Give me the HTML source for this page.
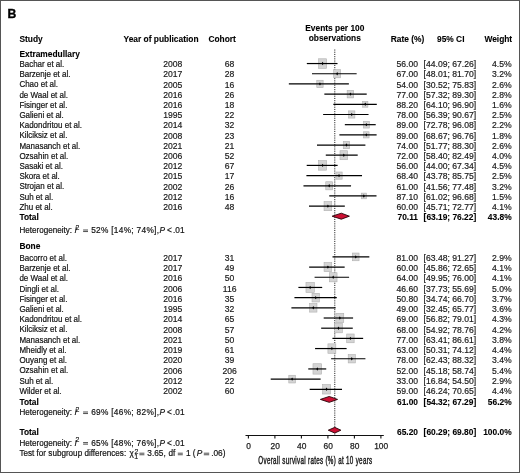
<!DOCTYPE html>
<html><head><meta charset="utf-8"><style>
html,body{margin:0;padding:0;background:#fff;}
body{width:520px;height:473px;overflow:hidden;}
.wrap{position:relative;width:518px;height:471px;border:1px solid #555;}
svg{position:absolute;left:-1px;top:-1px;will-change:transform;}
text{font-family:"Liberation Sans",sans-serif;stroke:currentColor;}
.r{font-size:8.0px;fill:#111;color:#111;stroke-width:0.18px;}
.n{font-size:8.6px;fill:#1a1a1a;color:#1a1a1a;stroke-width:0.18px;}
.b{font-size:8.4px;font-weight:bold;fill:#000;color:#000;stroke-width:0.1px;}
.big{font-size:12.2px;font-weight:bold;fill:#000;color:#000;stroke-width:0.35;}
.it{font-style:italic;}
.sup2{font-size:7px;fill:#111;color:#111;stroke-width:0.15px;}
.h{font-size:8.3px;fill:#111;color:#111;stroke-width:0.18px;}
.eqp{stroke:#222;stroke-width:0.8;fill:none;}
.tk{font-size:8.4px;fill:#1e1e1e;color:#1e1e1e;stroke-width:0.25px;}
.at{font-size:10px;fill:#1e1e1e;color:#1e1e1e;stroke-width:0.45px;letter-spacing:0.5px;}
.sq{fill:#d4d4d4;stroke:#b0b0b0;stroke-width:0.6;}
.ci{stroke:#000;stroke-width:1.2;}
.pt{fill:#000;}
.dm{fill:#cc1033;stroke:#250006;stroke-width:0.9;}
.ref{stroke:#222;stroke-width:1;stroke-dasharray:1.1 1.1;}
.ax{stroke:#111;stroke-width:1.1;}
</style></head><body><div class="wrap">
<svg width="520" height="473" viewBox="0 0 520 473">
<line x1="334.79" y1="49.5" x2="334.79" y2="435" class="ref"/>
<rect x="318.61" y="58.79" width="7.99" height="9.52" class="sq"/>
<line x1="306.82" y1="63.55" x2="337.52" y2="63.55" class="ci"/>
<path d="M321.60 63.55L322.60 61.85L323.60 63.55L322.60 65.25Z" class="pt"/>
<rect x="333.71" y="69.69" width="6.92" height="8.09" class="sq"/>
<line x1="312.01" y1="73.74" x2="356.65" y2="73.74" class="ci"/>
<path d="M336.18 73.74L337.18 72.04L338.18 73.74L337.18 75.44Z" class="pt"/>
<rect x="316.77" y="80.26" width="6.36" height="7.33" class="sq"/>
<line x1="288.84" y1="83.92" x2="348.87" y2="83.92" class="ci"/>
<path d="M318.95 83.92L319.95 82.22L320.95 83.92L319.95 85.62Z" class="pt"/>
<rect x="347.15" y="90.31" width="6.55" height="7.60" class="sq"/>
<line x1="324.35" y1="94.11" x2="366.72" y2="94.11" class="ci"/>
<path d="M349.43 94.11L350.43 92.41L351.43 94.11L350.43 95.81Z" class="pt"/>
<rect x="362.64" y="101.37" width="5.25" height="5.84" class="sq"/>
<line x1="333.33" y1="104.29" x2="376.79" y2="104.29" class="ci"/>
<path d="M364.26 104.29L365.26 102.59L366.26 104.29L365.26 105.99Z" class="pt"/>
<rect x="348.62" y="110.88" width="6.26" height="7.20" class="sq"/>
<line x1="323.12" y1="114.48" x2="368.54" y2="114.48" class="ci"/>
<path d="M350.75 114.48L351.75 112.78L352.75 114.48L351.75 116.18Z" class="pt"/>
<rect x="363.35" y="121.28" width="5.95" height="6.78" class="sq"/>
<line x1="344.83" y1="124.67" x2="375.71" y2="124.67" class="ci"/>
<path d="M365.32 124.67L366.32 122.97L367.32 124.67L366.32 126.37Z" class="pt"/>
<rect x="363.58" y="131.77" width="5.49" height="6.17" class="sq"/>
<line x1="339.39" y1="134.85" x2="376.61" y2="134.85" class="ci"/>
<path d="M365.32 134.85L366.32 133.15L367.32 134.85L366.32 136.55Z" class="pt"/>
<rect x="343.27" y="141.37" width="6.36" height="7.33" class="sq"/>
<line x1="317.00" y1="145.04" x2="365.40" y2="145.04" class="ci"/>
<path d="M345.45 145.04L346.45 143.34L347.45 145.04L346.45 146.74Z" class="pt"/>
<rect x="340.00" y="150.72" width="7.60" height="9.00" class="sq"/>
<line x1="325.78" y1="155.22" x2="357.70" y2="155.22" class="ci"/>
<path d="M342.80 155.22L343.80 153.52L344.80 155.22L343.80 156.92Z" class="pt"/>
<rect x="318.61" y="160.65" width="7.99" height="9.52" class="sq"/>
<line x1="306.70" y1="165.41" x2="337.63" y2="165.41" class="ci"/>
<path d="M321.60 165.41L322.60 163.71L323.60 165.41L322.60 167.11Z" class="pt"/>
<rect x="335.90" y="172.00" width="6.26" height="7.20" class="sq"/>
<line x1="306.41" y1="175.60" x2="362.02" y2="175.60" class="ci"/>
<path d="M338.03 175.60L339.03 173.90L340.03 175.60L339.03 177.30Z" class="pt"/>
<rect x="325.76" y="181.74" width="6.92" height="8.09" class="sq"/>
<line x1="303.47" y1="185.78" x2="351.06" y2="185.78" class="ci"/>
<path d="M328.23 185.78L329.23 184.08L330.23 185.78L329.23 187.48Z" class="pt"/>
<rect x="361.25" y="193.13" width="5.12" height="5.67" class="sq"/>
<line x1="329.25" y1="195.97" x2="376.50" y2="195.97" class="ci"/>
<path d="M362.81 195.97L363.81 194.27L364.81 195.97L363.81 197.67Z" class="pt"/>
<rect x="324.06" y="201.60" width="7.68" height="9.11" class="sq"/>
<line x1="308.97" y1="206.15" x2="344.82" y2="206.15" class="ci"/>
<path d="M326.90 206.15L327.90 204.45L328.90 206.15L327.90 207.85Z" class="pt"/>
<path d="M332.13 216.20L341.30 213.20L349.39 216.20L341.30 219.20Z" class="dm"/>
<path d="M83.10 230.00H88.00M83.10 231.55H88.00" class="eqp"/>
<rect x="352.40" y="253.04" width="6.65" height="7.72" class="sq"/>
<line x1="332.51" y1="256.90" x2="369.33" y2="256.90" class="ci"/>
<path d="M354.73 256.90L355.73 255.20L356.73 256.90L355.73 258.60Z" class="pt"/>
<rect x="324.06" y="262.53" width="7.68" height="9.11" class="sq"/>
<line x1="309.16" y1="267.08" x2="344.66" y2="267.08" class="ci"/>
<path d="M326.90 267.08L327.90 265.38L328.90 267.08L327.90 268.78Z" class="pt"/>
<rect x="329.36" y="272.72" width="7.68" height="9.11" class="sq"/>
<line x1="314.58" y1="277.27" x2="349.10" y2="277.27" class="ci"/>
<path d="M332.20 277.27L333.20 275.57L334.20 277.27L333.20 278.97Z" class="pt"/>
<rect x="305.97" y="282.45" width="8.36" height="10.02" class="sq"/>
<line x1="298.39" y1="287.45" x2="322.19" y2="287.45" class="ci"/>
<path d="M309.14 287.45L310.14 285.75L311.14 287.45L310.14 289.15Z" class="pt"/>
<rect x="312.03" y="293.30" width="7.36" height="8.67" class="sq"/>
<line x1="294.43" y1="297.64" x2="336.78" y2="297.64" class="ci"/>
<path d="M314.71 297.64L315.71 295.94L316.71 297.64L315.71 299.34Z" class="pt"/>
<rect x="309.69" y="303.55" width="7.27" height="8.56" class="sq"/>
<line x1="291.40" y1="307.82" x2="335.55" y2="307.82" class="ci"/>
<path d="M312.32 307.82L313.32 306.12L314.32 307.82L313.32 309.52Z" class="pt"/>
<rect x="335.91" y="313.35" width="7.84" height="9.32" class="sq"/>
<line x1="323.69" y1="318.01" x2="353.09" y2="318.01" class="ci"/>
<path d="M338.82 318.01L339.82 316.31L340.82 318.01L339.82 319.71Z" class="pt"/>
<rect x="334.62" y="323.59" width="7.76" height="9.21" class="sq"/>
<line x1="321.17" y1="328.19" x2="352.76" y2="328.19" class="ci"/>
<path d="M337.50 328.19L338.50 326.50L339.50 328.19L338.50 329.89Z" class="pt"/>
<rect x="346.71" y="333.99" width="7.44" height="8.78" class="sq"/>
<line x1="332.42" y1="338.38" x2="363.16" y2="338.38" class="ci"/>
<path d="M349.43 338.38L350.43 336.68L351.43 338.38L350.43 340.08Z" class="pt"/>
<rect x="327.92" y="343.86" width="7.91" height="9.42" class="sq"/>
<line x1="315.06" y1="348.56" x2="346.61" y2="348.56" class="ci"/>
<path d="M330.88 348.56L331.88 346.87L332.88 348.56L331.88 350.26Z" class="pt"/>
<rect x="348.20" y="354.59" width="7.10" height="8.33" class="sq"/>
<line x1="331.12" y1="358.75" x2="365.42" y2="358.75" class="ci"/>
<path d="M350.75 358.75L351.75 357.05L352.75 358.75L351.75 360.45Z" class="pt"/>
<rect x="312.98" y="363.74" width="8.64" height="10.39" class="sq"/>
<line x1="308.26" y1="368.94" x2="326.23" y2="368.94" class="ci"/>
<path d="M316.30 368.94L317.30 367.24L318.30 368.94L317.30 370.63Z" class="pt"/>
<rect x="288.80" y="375.26" width="6.65" height="7.72" class="sq"/>
<line x1="270.71" y1="379.12" x2="320.61" y2="379.12" class="ci"/>
<path d="M291.12 379.12L292.12 377.42L293.12 379.12L292.12 380.82Z" class="pt"/>
<rect x="322.62" y="384.60" width="7.91" height="9.42" class="sq"/>
<line x1="309.67" y1="389.30" x2="342.01" y2="389.30" class="ci"/>
<path d="M325.57 389.30L326.57 387.60L327.57 389.30L326.57 391.00Z" class="pt"/>
<path d="M320.37 399.40L329.23 396.45L337.56 399.40L329.23 402.35Z" class="dm"/>
<path d="M83.10 412.00H88.00M83.10 413.55H88.00" class="eqp"/>
<path d="M328.28 430.20L334.79 427.35L340.88 430.20L334.79 433.05Z" class="dm"/>
<path d="M83.10 442.60H88.00M83.10 444.15H88.00" class="eqp"/>
<path d="M139.40 453.20H144.40M139.40 454.75H144.40" class="eqp"/>
<path d="M177.80 453.20H182.80M177.80 454.75H182.80" class="eqp"/>
<path d="M203.80 453.20H209.20M203.80 454.75H209.20" class="eqp"/>
<line x1="245.5" y1="435.5" x2="383.8" y2="435.5" class="ax"/>
<line x1="248.40" y1="435.5" x2="248.40" y2="438.6" class="ax"/>
<line x1="274.90" y1="435.5" x2="274.90" y2="438.6" class="ax"/>
<line x1="301.40" y1="435.5" x2="301.40" y2="438.6" class="ax"/>
<line x1="327.90" y1="435.5" x2="327.90" y2="438.6" class="ax"/>
<line x1="354.40" y1="435.5" x2="354.40" y2="438.6" class="ax"/>
<line x1="380.90" y1="435.5" x2="380.90" y2="438.6" class="ax"/>
<text x="7.60" y="17.80" class="big">B</text>
<text x="19.40" y="41.60" class="b">Study</text>
<text x="123.60" y="41.60" class="b">Year of publication</text>
<text x="208.40" y="41.60" class="b">Cohort</text>
<text x="390.80" y="41.60" class="b">Rate (%)</text>
<text x="437.00" y="41.60" class="b">95% CI</text>
<text x="484.40" y="41.60" class="b">Weight</text>
<text x="334.80" y="31.00" class="b" text-anchor="middle">Events per 100</text>
<text x="334.80" y="40.90" class="b" text-anchor="middle">observations</text>
<text x="19.40" y="56.90" class="b">Extramedullary</text>
<text x="19.40" y="67.10" class="r" transform="matrix(1 0 0 1.12 0 -8.052)">Bachar et al.</text>
<text x="182.40" y="67.10" class="n" text-anchor="end">2008</text>
<text x="229.60" y="67.10" class="n" text-anchor="middle">68</text>
<text x="418.00" y="67.10" class="n" text-anchor="end">56.00</text>
<text x="423.60" y="67.10" class="n">[44.09; 67.26]</text>
<text x="511.60" y="67.10" class="n" text-anchor="end">4.5%</text>
<text x="19.40" y="77.30" class="r" transform="matrix(1 0 0 1.12 0 -9.276)">Barzenje et al.</text>
<text x="182.40" y="77.30" class="n" text-anchor="end">2017</text>
<text x="229.60" y="77.30" class="n" text-anchor="middle">28</text>
<text x="418.00" y="77.30" class="n" text-anchor="end">67.00</text>
<text x="423.60" y="77.30" class="n">[48.01; 81.70]</text>
<text x="511.60" y="77.30" class="n" text-anchor="end">3.2%</text>
<text x="19.40" y="87.50" class="r" transform="matrix(1 0 0 1.12 0 -10.500)">Chao et al.</text>
<text x="182.40" y="87.50" class="n" text-anchor="end">2005</text>
<text x="229.60" y="87.50" class="n" text-anchor="middle">16</text>
<text x="418.00" y="87.50" class="n" text-anchor="end">54.00</text>
<text x="423.60" y="87.50" class="n">[30.52; 75.83]</text>
<text x="511.60" y="87.50" class="n" text-anchor="end">2.6%</text>
<text x="19.40" y="97.70" class="r" transform="matrix(1 0 0 1.12 0 -11.724)">de Waal et al.</text>
<text x="182.40" y="97.70" class="n" text-anchor="end">2016</text>
<text x="229.60" y="97.70" class="n" text-anchor="middle">26</text>
<text x="418.00" y="97.70" class="n" text-anchor="end">77.00</text>
<text x="423.60" y="97.70" class="n">[57.32; 89.30]</text>
<text x="511.60" y="97.70" class="n" text-anchor="end">2.8%</text>
<text x="19.40" y="107.90" class="r" transform="matrix(1 0 0 1.12 0 -12.948)">Fisinger et al.</text>
<text x="182.40" y="107.90" class="n" text-anchor="end">2016</text>
<text x="229.60" y="107.90" class="n" text-anchor="middle">18</text>
<text x="418.00" y="107.90" class="n" text-anchor="end">88.20</text>
<text x="423.60" y="107.90" class="n">[64.10; 96.90]</text>
<text x="511.60" y="107.90" class="n" text-anchor="end">1.6%</text>
<text x="19.40" y="118.10" class="r" transform="matrix(1 0 0 1.12 0 -14.172)">Galieni et al.</text>
<text x="182.40" y="118.10" class="n" text-anchor="end">1995</text>
<text x="229.60" y="118.10" class="n" text-anchor="middle">22</text>
<text x="418.00" y="118.10" class="n" text-anchor="end">78.00</text>
<text x="423.60" y="118.10" class="n">[56.39; 90.67]</text>
<text x="511.60" y="118.10" class="n" text-anchor="end">2.5%</text>
<text x="19.40" y="128.30" class="r" transform="matrix(1 0 0 1.12 0 -15.396)">Kadondritou et al.</text>
<text x="182.40" y="128.30" class="n" text-anchor="end">2014</text>
<text x="229.60" y="128.30" class="n" text-anchor="middle">32</text>
<text x="418.00" y="128.30" class="n" text-anchor="end">89.00</text>
<text x="423.60" y="128.30" class="n">[72.78; 96.08]</text>
<text x="511.60" y="128.30" class="n" text-anchor="end">2.2%</text>
<text x="19.40" y="138.50" class="r" transform="matrix(1 0 0 1.12 0 -16.620)">Kilciksiz et al.</text>
<text x="182.40" y="138.50" class="n" text-anchor="end">2008</text>
<text x="229.60" y="138.50" class="n" text-anchor="middle">23</text>
<text x="418.00" y="138.50" class="n" text-anchor="end">89.00</text>
<text x="423.60" y="138.50" class="n">[68.67; 96.76]</text>
<text x="511.60" y="138.50" class="n" text-anchor="end">1.8%</text>
<text x="19.40" y="148.70" class="r" transform="matrix(1 0 0 1.12 0 -17.844)">Manasanch et al.</text>
<text x="182.40" y="148.70" class="n" text-anchor="end">2021</text>
<text x="229.60" y="148.70" class="n" text-anchor="middle">21</text>
<text x="418.00" y="148.70" class="n" text-anchor="end">74.00</text>
<text x="423.60" y="148.70" class="n">[51.77; 88.30]</text>
<text x="511.60" y="148.70" class="n" text-anchor="end">2.6%</text>
<text x="19.40" y="158.90" class="r" transform="matrix(1 0 0 1.12 0 -19.068)">Ozsahin et al.</text>
<text x="182.40" y="158.90" class="n" text-anchor="end">2006</text>
<text x="229.60" y="158.90" class="n" text-anchor="middle">52</text>
<text x="418.00" y="158.90" class="n" text-anchor="end">72.00</text>
<text x="423.60" y="158.90" class="n">[58.40; 82.49]</text>
<text x="511.60" y="158.90" class="n" text-anchor="end">4.0%</text>
<text x="19.40" y="169.10" class="r" transform="matrix(1 0 0 1.12 0 -20.292)">Sasaki et al.</text>
<text x="182.40" y="169.10" class="n" text-anchor="end">2012</text>
<text x="229.60" y="169.10" class="n" text-anchor="middle">67</text>
<text x="418.00" y="169.10" class="n" text-anchor="end">56.00</text>
<text x="423.60" y="169.10" class="n">[44.00; 67.34]</text>
<text x="511.60" y="169.10" class="n" text-anchor="end">4.5%</text>
<text x="19.40" y="179.30" class="r" transform="matrix(1 0 0 1.12 0 -21.516)">Skora et al.</text>
<text x="182.40" y="179.30" class="n" text-anchor="end">2015</text>
<text x="229.60" y="179.30" class="n" text-anchor="middle">17</text>
<text x="418.00" y="179.30" class="n" text-anchor="end">68.40</text>
<text x="423.60" y="179.30" class="n">[43.78; 85.75]</text>
<text x="511.60" y="179.30" class="n" text-anchor="end">2.5%</text>
<text x="19.40" y="189.50" class="r" transform="matrix(1 0 0 1.12 0 -22.740)">Strojan et al.</text>
<text x="182.40" y="189.50" class="n" text-anchor="end">2002</text>
<text x="229.60" y="189.50" class="n" text-anchor="middle">26</text>
<text x="418.00" y="189.50" class="n" text-anchor="end">61.00</text>
<text x="423.60" y="189.50" class="n">[41.56; 77.48]</text>
<text x="511.60" y="189.50" class="n" text-anchor="end">3.2%</text>
<text x="19.40" y="199.70" class="r" transform="matrix(1 0 0 1.12 0 -23.964)">Suh et al.</text>
<text x="182.40" y="199.70" class="n" text-anchor="end">2012</text>
<text x="229.60" y="199.70" class="n" text-anchor="middle">16</text>
<text x="418.00" y="199.70" class="n" text-anchor="end">87.10</text>
<text x="423.60" y="199.70" class="n">[61.02; 96.68]</text>
<text x="511.60" y="199.70" class="n" text-anchor="end">1.5%</text>
<text x="19.40" y="209.90" class="r" transform="matrix(1 0 0 1.12 0 -25.188)">Zhu et al.</text>
<text x="182.40" y="209.90" class="n" text-anchor="end">2016</text>
<text x="229.60" y="209.90" class="n" text-anchor="middle">48</text>
<text x="418.00" y="209.90" class="n" text-anchor="end">60.00</text>
<text x="423.60" y="209.90" class="n">[45.71; 72.77]</text>
<text x="511.60" y="209.90" class="n" text-anchor="end">4.1%</text>
<text x="19.40" y="220.30" class="b">Total</text>
<text x="418.00" y="220.30" class="b" text-anchor="end">70.11</text>
<text x="423.60" y="220.30" class="b">[63.19; 76.22]</text>
<text x="511.60" y="220.30" class="b" text-anchor="end">43.8%</text>
<text x="19.50" y="233.00" class="h" transform="matrix(1 0 0 1.12 0 -27.960)" style="font-size:8.1px">Heterogeneity:</text>
<text x="74.50" y="233.00" class="h it" transform="matrix(1 0 0 1.12 0 -27.960)">I</text>
<text x="75.60" y="229.70" class="sup2" transform="matrix(1 0 0 1.12 0 -27.564)">2</text>
<text x="91.20" y="233.00" class="h" transform="matrix(1 0 0 1.12 0 -27.960)" style="letter-spacing:0.3px">52% [14%; 74%],</text>
<text x="159.60" y="233.00" class="h it" transform="matrix(1 0 0 1.12 0 -27.960)">P</text>
<text x="167.00" y="233.00" class="h" transform="matrix(1 0 0 1.12 0 -27.960)">&lt;</text>
<text x="173.00" y="233.00" class="h" transform="matrix(1 0 0 1.12 0 -27.960)">.01</text>
<text x="19.40" y="249.10" class="b">Bone</text>
<text x="19.40" y="260.80" class="r" transform="matrix(1 0 0 1.12 0 -31.296)">Bacorro et al.</text>
<text x="182.40" y="260.80" class="n" text-anchor="end">2017</text>
<text x="229.60" y="260.80" class="n" text-anchor="middle">31</text>
<text x="418.00" y="260.80" class="n" text-anchor="end">81.00</text>
<text x="423.60" y="260.80" class="n">[63.48; 91.27]</text>
<text x="511.60" y="260.80" class="n" text-anchor="end">2.9%</text>
<text x="19.40" y="271.05" class="r" transform="matrix(1 0 0 1.12 0 -32.525)">Barzenje et al.</text>
<text x="182.40" y="271.05" class="n" text-anchor="end">2017</text>
<text x="229.60" y="271.05" class="n" text-anchor="middle">49</text>
<text x="418.00" y="271.05" class="n" text-anchor="end">60.00</text>
<text x="423.60" y="271.05" class="n">[45.86; 72.65]</text>
<text x="511.60" y="271.05" class="n" text-anchor="end">4.1%</text>
<text x="19.40" y="281.29" class="r" transform="matrix(1 0 0 1.12 0 -33.755)">de Waal et al.</text>
<text x="182.40" y="281.29" class="n" text-anchor="end">2016</text>
<text x="229.60" y="281.29" class="n" text-anchor="middle">50</text>
<text x="418.00" y="281.29" class="n" text-anchor="end">64.00</text>
<text x="423.60" y="281.29" class="n">[49.95; 76.00]</text>
<text x="511.60" y="281.29" class="n" text-anchor="end">4.1%</text>
<text x="19.40" y="291.54" class="r" transform="matrix(1 0 0 1.12 0 -34.984)">Dingli et al.</text>
<text x="182.40" y="291.54" class="n" text-anchor="end">2006</text>
<text x="229.60" y="291.54" class="n" text-anchor="middle">116</text>
<text x="418.00" y="291.54" class="n" text-anchor="end">46.60</text>
<text x="423.60" y="291.54" class="n">[37.73; 55.69]</text>
<text x="511.60" y="291.54" class="n" text-anchor="end">5.0%</text>
<text x="19.40" y="301.78" class="r" transform="matrix(1 0 0 1.12 0 -36.214)">Fisinger et al.</text>
<text x="182.40" y="301.78" class="n" text-anchor="end">2016</text>
<text x="229.60" y="301.78" class="n" text-anchor="middle">35</text>
<text x="418.00" y="301.78" class="n" text-anchor="end">50.80</text>
<text x="423.60" y="301.78" class="n">[34.74; 66.70]</text>
<text x="511.60" y="301.78" class="n" text-anchor="end">3.7%</text>
<text x="19.40" y="312.02" class="r" transform="matrix(1 0 0 1.12 0 -37.443)">Galieni et al.</text>
<text x="182.40" y="312.02" class="n" text-anchor="end">1995</text>
<text x="229.60" y="312.02" class="n" text-anchor="middle">32</text>
<text x="418.00" y="312.02" class="n" text-anchor="end">49.00</text>
<text x="423.60" y="312.02" class="n">[32.45; 65.77]</text>
<text x="511.60" y="312.02" class="n" text-anchor="end">3.6%</text>
<text x="19.40" y="322.27" class="r" transform="matrix(1 0 0 1.12 0 -38.672)">Kadondritou et al.</text>
<text x="182.40" y="322.27" class="n" text-anchor="end">2014</text>
<text x="229.60" y="322.27" class="n" text-anchor="middle">65</text>
<text x="418.00" y="322.27" class="n" text-anchor="end">69.00</text>
<text x="423.60" y="322.27" class="n">[56.82; 79.01]</text>
<text x="511.60" y="322.27" class="n" text-anchor="end">4.3%</text>
<text x="19.40" y="332.51" class="r" transform="matrix(1 0 0 1.12 0 -39.902)">Kilciksiz et al.</text>
<text x="182.40" y="332.51" class="n" text-anchor="end">2008</text>
<text x="229.60" y="332.51" class="n" text-anchor="middle">57</text>
<text x="418.00" y="332.51" class="n" text-anchor="end">68.00</text>
<text x="423.60" y="332.51" class="n">[54.92; 78.76]</text>
<text x="511.60" y="332.51" class="n" text-anchor="end">4.2%</text>
<text x="19.40" y="342.76" class="r" transform="matrix(1 0 0 1.12 0 -41.131)">Manasanch et al.</text>
<text x="182.40" y="342.76" class="n" text-anchor="end">2021</text>
<text x="229.60" y="342.76" class="n" text-anchor="middle">50</text>
<text x="418.00" y="342.76" class="n" text-anchor="end">77.00</text>
<text x="423.60" y="342.76" class="n">[63.41; 86.61]</text>
<text x="511.60" y="342.76" class="n" text-anchor="end">3.8%</text>
<text x="19.40" y="353.00" class="r" transform="matrix(1 0 0 1.12 0 -42.361)">Mheidly et al.</text>
<text x="182.40" y="353.00" class="n" text-anchor="end">2019</text>
<text x="229.60" y="353.00" class="n" text-anchor="middle">61</text>
<text x="418.00" y="353.00" class="n" text-anchor="end">63.00</text>
<text x="423.60" y="353.00" class="n">[50.31; 74.12]</text>
<text x="511.60" y="353.00" class="n" text-anchor="end">4.4%</text>
<text x="19.40" y="363.25" class="r" transform="matrix(1 0 0 1.12 0 -43.590)">Ouyang et al.</text>
<text x="182.40" y="363.25" class="n" text-anchor="end">2020</text>
<text x="229.60" y="363.25" class="n" text-anchor="middle">39</text>
<text x="418.00" y="363.25" class="n" text-anchor="end">78.00</text>
<text x="423.60" y="363.25" class="n">[62.43; 88.32]</text>
<text x="511.60" y="363.25" class="n" text-anchor="end">3.4%</text>
<text x="19.40" y="373.50" class="r" transform="matrix(1 0 0 1.12 0 -44.819)">Ozsahin et al.</text>
<text x="182.40" y="373.50" class="n" text-anchor="end">2006</text>
<text x="229.60" y="373.50" class="n" text-anchor="middle">206</text>
<text x="418.00" y="373.50" class="n" text-anchor="end">52.00</text>
<text x="423.60" y="373.50" class="n">[45.18; 58.74]</text>
<text x="511.60" y="373.50" class="n" text-anchor="end">5.4%</text>
<text x="19.40" y="383.74" class="r" transform="matrix(1 0 0 1.12 0 -46.049)">Suh et al.</text>
<text x="182.40" y="383.74" class="n" text-anchor="end">2012</text>
<text x="229.60" y="383.74" class="n" text-anchor="middle">22</text>
<text x="418.00" y="383.74" class="n" text-anchor="end">33.00</text>
<text x="423.60" y="383.74" class="n">[16.84; 54.50]</text>
<text x="511.60" y="383.74" class="n" text-anchor="end">2.9%</text>
<text x="19.40" y="393.99" class="r" transform="matrix(1 0 0 1.12 0 -47.278)">Wilder et al.</text>
<text x="182.40" y="393.99" class="n" text-anchor="end">2002</text>
<text x="229.60" y="393.99" class="n" text-anchor="middle">60</text>
<text x="418.00" y="393.99" class="n" text-anchor="end">59.00</text>
<text x="423.60" y="393.99" class="n">[46.24; 70.65]</text>
<text x="511.60" y="393.99" class="n" text-anchor="end">4.4%</text>
<text x="19.40" y="404.50" class="b">Total</text>
<text x="418.00" y="404.50" class="b" text-anchor="end">61.00</text>
<text x="423.60" y="404.50" class="b">[54.32; 67.29]</text>
<text x="511.60" y="404.50" class="b" text-anchor="end">56.2%</text>
<text x="19.50" y="415.00" class="h" transform="matrix(1 0 0 1.12 0 -49.800)" style="font-size:8.1px">Heterogeneity:</text>
<text x="74.50" y="415.00" class="h it" transform="matrix(1 0 0 1.12 0 -49.800)">I</text>
<text x="75.60" y="411.70" class="sup2" transform="matrix(1 0 0 1.12 0 -49.404)">2</text>
<text x="91.20" y="415.00" class="h" transform="matrix(1 0 0 1.12 0 -49.800)" style="letter-spacing:0.3px">69% [46%; 82%],</text>
<text x="159.60" y="415.00" class="h it" transform="matrix(1 0 0 1.12 0 -49.800)">P</text>
<text x="167.00" y="415.00" class="h" transform="matrix(1 0 0 1.12 0 -49.800)">&lt;</text>
<text x="173.00" y="415.00" class="h" transform="matrix(1 0 0 1.12 0 -49.800)">.01</text>
<text x="19.40" y="435.40" class="b">Total</text>
<text x="418.00" y="435.40" class="b" text-anchor="end">65.20</text>
<text x="423.60" y="435.40" class="b">[60.29; 69.80]</text>
<text x="511.60" y="435.40" class="b" text-anchor="end">100.0%</text>
<text x="19.50" y="445.60" class="h" transform="matrix(1 0 0 1.12 0 -53.472)" style="font-size:8.1px">Heterogeneity:</text>
<text x="74.50" y="445.60" class="h it" transform="matrix(1 0 0 1.12 0 -53.472)">I</text>
<text x="75.60" y="442.30" class="sup2" transform="matrix(1 0 0 1.12 0 -53.076)">2</text>
<text x="91.20" y="445.60" class="h" transform="matrix(1 0 0 1.12 0 -53.472)" style="letter-spacing:0.3px">65% [48%; 76%],</text>
<text x="159.60" y="445.60" class="h it" transform="matrix(1 0 0 1.12 0 -53.472)">P</text>
<text x="167.00" y="445.60" class="h" transform="matrix(1 0 0 1.12 0 -53.472)">&lt;</text>
<text x="173.00" y="445.60" class="h" transform="matrix(1 0 0 1.12 0 -53.472)">.01</text>
<text x="19.50" y="456.20" class="h" transform="matrix(1 0 0 1.12 0 -54.744)" style="font-size:8.12px">Test for subgroup differences:</text>
<text x="129.60" y="456.20" class="h" transform="matrix(1 0 0 1.12 0 -54.744)">&#967;</text>
<text x="134.50" y="454.00" class="sup2" transform="matrix(1 0 0 1.12 0 -54.480)">2</text>
<text x="134.30" y="458.80" class="sup2" transform="matrix(1 0 0 1.12 0 -55.056)">1</text>
<text x="147.30" y="456.20" class="h" transform="matrix(1 0 0 1.12 0 -54.744)">3.65,</text>
<text x="168.50" y="456.20" class="h" transform="matrix(1 0 0 1.12 0 -54.744)">df</text>
<text x="186.00" y="456.20" class="h" transform="matrix(1 0 0 1.12 0 -54.744)">1</text>
<text x="192.80" y="456.20" class="h" transform="matrix(1 0 0 1.12 0 -54.744)">(</text>
<text x="196.70" y="456.20" class="h it" transform="matrix(1 0 0 1.12 0 -54.744)">P</text>
<text x="211.20" y="456.20" class="h" transform="matrix(1 0 0 1.12 0 -54.744)">.06)</text>
<text x="248.70" y="449.20" class="tk" text-anchor="middle">0</text>
<text x="275.20" y="449.20" class="tk" text-anchor="middle">20</text>
<text x="301.70" y="449.20" class="tk" text-anchor="middle">40</text>
<text x="328.20" y="449.20" class="tk" text-anchor="middle">60</text>
<text x="354.70" y="449.20" class="tk" text-anchor="middle">80</text>
<text x="381.20" y="449.20" class="tk" text-anchor="middle">100</text>
<text x="504.64" y="463.9" class="at" text-anchor="middle" transform="scale(0.625,1)">Overall survival rates (%) at 10 years</text>
</svg></div></body></html>
